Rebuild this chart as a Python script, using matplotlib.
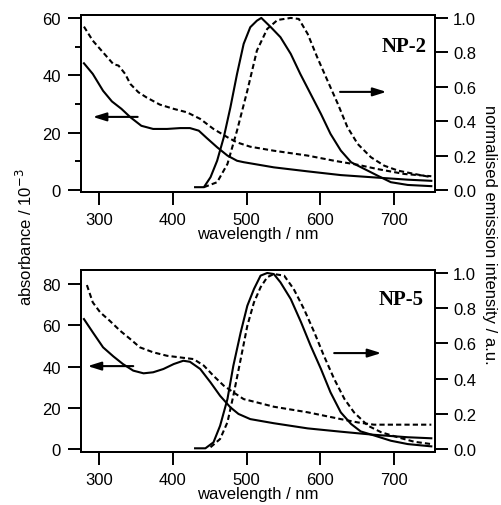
import matplotlib
matplotlib.use('Agg')
import matplotlib.pyplot as plt
from matplotlib.ticker import MultipleLocator

plt.rcParams['font.family'] = ['Liberation Sans', 'DejaVu Sans']

# ---- NP-2 (top panel) ----
np2_abs_solid_wl = [279, 291, 305, 317, 330, 342, 357, 373, 392, 410, 423, 435, 446, 460, 474,
                    487, 496, 537, 583, 628, 673, 719, 751]
np2_abs_solid = [44.2, 40.5, 34.6, 30.9, 28.3, 25.4, 22.4, 21.3, 21.3, 21.6, 21.6, 20.7, 18.1,
                 14.9, 12.0, 10.2, 9.7, 7.9, 6.5, 5.2, 4.4, 3.6, 3.2]
np2_abs_dash_wl = [279, 291, 305, 319, 326, 335, 342, 353, 364, 382, 401, 419, 437, 455, 474,
                   487, 505, 537, 583, 619, 651, 678, 714, 751]
np2_abs_dash = [57.0, 52.1, 48.0, 43.9, 43.4, 40.5, 37.0, 34.1, 32.3, 29.8, 28.3, 27.1, 24.8,
                21.3, 18.4, 16.6, 15.1, 13.7, 12.0, 10.2, 8.8, 7.3, 5.6, 4.8]
np2_em_solid_wl = [430, 442, 451, 460, 469, 478, 487, 496, 505, 514, 520, 533, 546, 560, 573,
                   587, 601, 614, 628, 642, 660, 678, 696, 719, 751]
np2_em_solid = [0.016, 0.016, 0.074, 0.17, 0.306, 0.48, 0.674, 0.849, 0.946, 0.984, 1.0, 0.946,
                0.888, 0.791, 0.674, 0.558, 0.442, 0.326, 0.229, 0.161, 0.122, 0.083, 0.045,
                0.029, 0.022]
np2_em_dash_wl = [442, 460, 474, 487, 501, 514, 528, 542, 560, 571, 583, 596, 610, 624, 637,
                  651, 669, 687, 706, 728, 751]
np2_em_dash = [0.016, 0.045, 0.151, 0.345, 0.577, 0.81, 0.936, 0.988, 1.0, 0.994, 0.907, 0.771,
               0.635, 0.5, 0.365, 0.267, 0.19, 0.141, 0.112, 0.093, 0.074]

# ---- NP-5 (bottom panel) ----
np5_abs_solid_wl = [279, 291, 305, 319, 332, 346, 360, 373, 387, 401, 414, 423, 437, 451, 464,
                    478, 489, 505, 537, 583, 628, 673, 719, 751]
np5_abs_solid = [63.0, 56.6, 49.3, 44.9, 41.2, 38.0, 36.7, 37.2, 38.8, 41.2, 42.8, 42.3, 38.8,
                 32.3, 25.8, 20.2, 17.0, 14.5, 12.5, 10.0, 8.4, 6.9, 5.7, 5.2]
np5_abs_dash_wl = [283, 291, 301, 314, 328, 342, 355, 373, 392, 410, 428, 442, 455, 469, 482,
                   496, 514, 537, 583, 628, 651, 673, 719, 751]
np5_abs_dash = [79.5, 71.1, 66.3, 62.2, 57.4, 53.3, 49.3, 46.9, 45.2, 44.4, 43.6, 40.4, 35.5,
                30.7, 27.5, 24.2, 22.6, 20.5, 17.8, 14.5, 12.9, 11.8, 11.8, 11.8]
np5_em_solid_wl = [430, 444, 455, 464, 474, 482, 492, 501, 510, 519, 528, 537, 546, 560, 574,
                   587, 601, 614, 628, 642, 655, 674, 696, 719, 751]
np5_em_solid = [0.004, 0.004, 0.038, 0.132, 0.284, 0.473, 0.663, 0.814, 0.909, 0.985, 1.0, 0.994,
                0.947, 0.852, 0.72, 0.587, 0.455, 0.322, 0.208, 0.142, 0.1, 0.076, 0.047,
                0.028, 0.015]
np5_em_dash_wl = [451, 464, 474, 482, 492, 501, 510, 519, 528, 537, 551, 564, 578, 592, 605,
                  619, 633, 646, 665, 683, 706, 728, 751]
np5_em_dash = [0.01, 0.057, 0.152, 0.303, 0.511, 0.70, 0.833, 0.919, 0.976, 0.994, 0.985, 0.909,
               0.795, 0.663, 0.53, 0.398, 0.284, 0.208, 0.132, 0.095, 0.066, 0.041, 0.028]

panels = [
    dict(name='NP-2', rect=[81, 16, 354, 177], ylim=(-0.7, 61.05), yr=(-0.012, 1.017),
         ymin=10,
         abs_s=(np2_abs_solid_wl, np2_abs_solid), abs_d=(np2_abs_dash_wl, np2_abs_dash),
         em_s=(np2_em_solid_wl, np2_em_solid), em_d=(np2_em_dash_wl, np2_em_dash),
         larrow=((352, 25.5), (291, 25.5)), rarrow=((627, 0.57), (690, 0.57)),
         label_pos=(0.977, 0.825)),
    dict(name='NP-5', rect=[81, 271, 354, 182], ylim=(-1.45, 86.8), yr=(-0.017, 1.017),
         ymin=None,
         abs_s=(np5_abs_solid_wl, np5_abs_solid), abs_d=(np5_abs_dash_wl, np5_abs_dash),
         em_s=(np5_em_solid_wl, np5_em_solid), em_d=(np5_em_dash_wl, np5_em_dash),
         larrow=((346, 40.2), (284, 40.2)), rarrow=((619, 0.545), (683, 0.545)),
         label_pos=(0.967, 0.84)),
]

W, H = 502, 506
fig = plt.figure(figsize=(W / 100, H / 100), dpi=100)

lw = 1.5
dash = (0, (2.5, 1.5))

for p in panels:
    x0, y0, w, h = p['rect']
    ax = fig.add_axes([x0 / W, 1 - (y0 + h) / H, w / W, h / H])
    ax2 = ax.twinx()

    # absorbance on the left axis, emission on the right axis
    ax.plot(*p['abs_s'], color='black', lw=lw)
    ax.plot(*p['abs_d'], color='black', lw=lw, linestyle=dash)
    ax2.plot(*p['em_s'], color='black', lw=lw)
    ax2.plot(*p['em_d'], color='black', lw=lw, linestyle=dash)

    ax.set_xlim(275, 756)
    ax.set_ylim(*p['ylim'])
    ax2.set_ylim(*p['yr'])
    ax.xaxis.set_major_locator(MultipleLocator(100))
    ax.yaxis.set_major_locator(MultipleLocator(20))
    if p['ymin']:
        ax.yaxis.set_minor_locator(MultipleLocator(p['ymin']))
    ax2.yaxis.set_major_locator(MultipleLocator(0.2))
    ax2.yaxis.set_major_formatter(plt.FormatStrFormatter('%.1f'))

    for a in (ax, ax2):
        for s in a.spines.values():
            s.set_linewidth(1.4)
    ax.tick_params(axis='x', direction='out', length=9.4, width=1.4, labelsize=12, pad=5)
    ax.tick_params(axis='y', which='major', direction='out', length=9.4, width=1.4,
                   labelsize=12, pad=5)
    ax.tick_params(axis='y', which='minor', direction='out', length=4.5, width=1.4)
    ax2.tick_params(axis='y', direction='out', length=9.4, width=1.4, labelsize=12, pad=3.5)

    ax.set_xlabel('wavelength / nm', fontsize=12, labelpad=-1)

    arrow = dict(arrowstyle='-|>,head_length=0.8,head_width=0.25', color='black',
                 lw=lw, shrinkA=0, shrinkB=0)
    ax.annotate('', xy=p['larrow'][1], xytext=p['larrow'][0], arrowprops=arrow)
    ax2.annotate('', xy=p['rarrow'][1], xytext=p['rarrow'][0], arrowprops=arrow)

    ax.text(*p['label_pos'], p['name'], transform=ax.transAxes, ha='right', va='center',
            fontsize=15, fontweight='bold', family='Liberation Serif')

fig.text(25 / W, 1 - 237 / H, r'absorbance / 10$^{-3}$', rotation=90, fontsize=12,
         ha='center', va='center')
fig.text(490 / W, 1 - 235 / H, 'normalised emission intensity / a.u.', rotation=-90,
         fontsize=12, ha='center', va='center')

fig.savefig('out.png', dpi=100)
